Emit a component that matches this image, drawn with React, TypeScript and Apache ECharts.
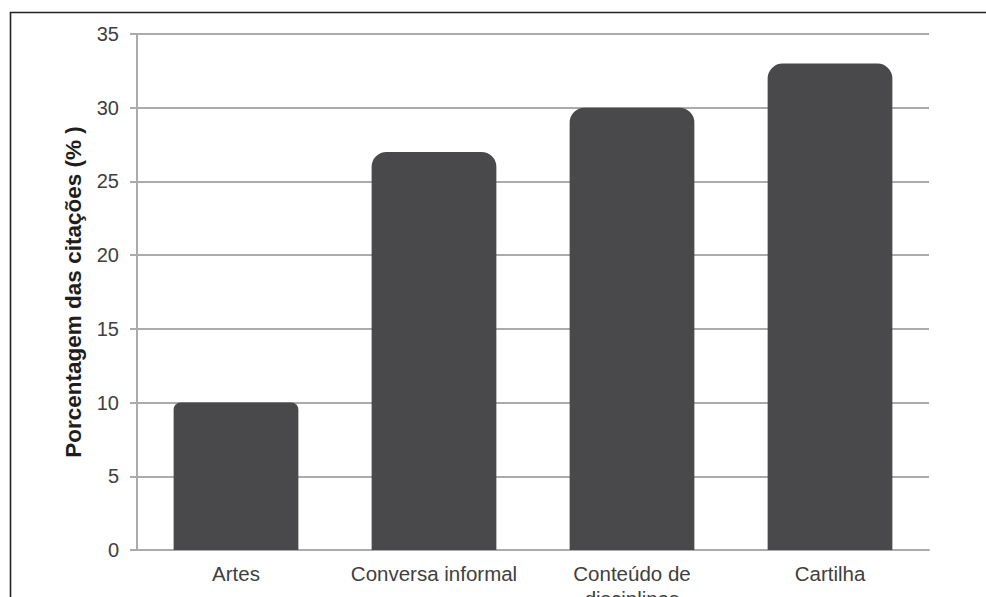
import React, { useEffect, useRef } from "react";
import * as echarts from "echarts";

// Share of citations per source type (%)
const categories = ["Artes", "Conversa informal", "Conteúdo de\ndisciplinas", "Cartilha"];
const values = [10, 27, 30, 33];
const cornerRadii = [7, 15, 15, 15];
const yTicks = { min: 0, max: 35, interval: 5 };
const yAxisTitle = "Porcentagem das citações (% )";

const BAR_COLOR = "#49494b";
const GRID_COLOR = "#ababab";
const TEXT_COLOR = "#404040";
const FONT = "'Liberation Sans', Arial, Helvetica, sans-serif";

export default function App() {
  const ref = useRef<HTMLDivElement>(null);

  useEffect(() => {
    if (!ref.current) return;
    const chart = echarts.init(ref.current, undefined, { renderer: "svg" });
    chart.setOption({
      animation: false,
      backgroundColor: "#ffffff",
      textStyle: { fontFamily: FONT },
      grid: {
        left: 137,
        top: 34,
        right: 57,
        bottom: 47,
        containLabel: false,
        outerBoundsMode: "none",
      },
      graphic: [
        {
          type: "rect",
          left: 8,
          top: 10,
          shape: { x: 0, y: 0, width: 1200, height: 800 },
          style: { fill: "none", stroke: "#222222", lineWidth: 1.6 },
          silent: true,
          z: 100,
        },
      ],
      xAxis: {
        type: "category",
        data: categories,
        axisLine: { show: true, lineStyle: { color: GRID_COLOR, width: 2 } },
        axisTick: { show: false },
        axisLabel: {
          color: TEXT_COLOR,
          fontSize: 20.5,
          fontFamily: FONT,
          margin: 11,
          lineHeight: 25,
          interval: 0,
        },
      },
      yAxis: {
        type: "value",
        min: yTicks.min,
        max: yTicks.max,
        interval: yTicks.interval,
        name: yAxisTitle,
        nameLocation: "middle",
        nameGap: 52,
        nameTextStyle: {
          color: "#1e1e1e",
          fontSize: 22.5,
          fontWeight: "bold",
          fontFamily: FONT,
        },
        axisLine: { show: true, lineStyle: { color: GRID_COLOR, width: 2 } },
        axisTick: { show: true, length: 7, lineStyle: { color: GRID_COLOR, width: 2 } },
        axisLabel: { color: TEXT_COLOR, fontSize: 20, fontFamily: FONT, margin: 18 },
        splitLine: { show: true, lineStyle: { color: GRID_COLOR, width: 2 } },
      },
      series: [
        {
          type: "bar",
          barWidth: "63%",
          data: values.map((v, i) => ({
            value: v,
            itemStyle: {
              color: BAR_COLOR,
              borderRadius: [cornerRadii[i], cornerRadii[i], 0, 0],
            },
          })),
        },
      ],
    });
    return () => chart.dispose();
  }, []);

  return (
    <div
      ref={ref}
      style={{ position: "fixed", left: 0, top: 0, width: 986, height: 597 }}
    />
  );
}
